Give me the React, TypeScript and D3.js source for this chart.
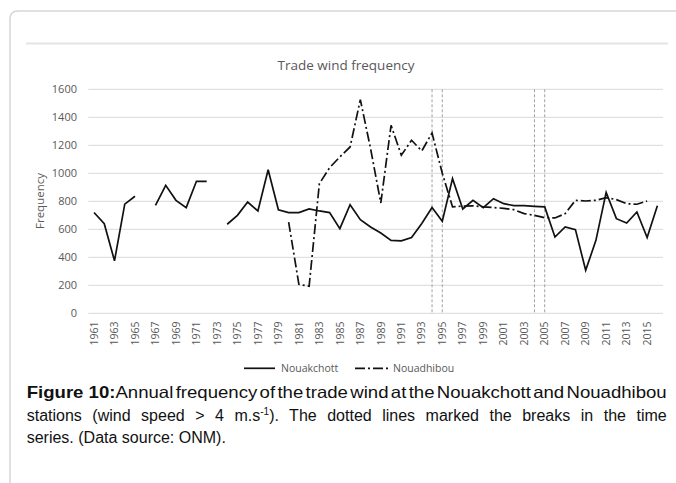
import React, { useLayoutEffect, useRef, useState } from "react";
import * as d3 from "d3";

const years: number[] = [
  1961, 1962, 1963, 1964, 1965, 1966, 1967, 1968, 1969, 1970,
  1971, 1972, 1973, 1974, 1975, 1976, 1977, 1978, 1979, 1980,
  1981, 1982, 1983, 1984, 1985, 1986, 1987, 1988, 1989, 1990,
  1991, 1992, 1993, 1994, 1995, 1996, 1997, 1998, 1999, 2000,
  2001, 2002, 2003, 2004, 2005, 2006, 2007, 2008, 2009, 2010,
  2011, 2012, 2013, 2014, 2015, 2016,
];

const nouakchott: (number | null)[] = [
  720, 640, 375, 780, 836, null, 771, 914, 807, 755,
  943, 943, null, 636, 700, 795, 731, 1025, 740, 719,
  719, 745, 731, 719, 605, 776, 669, 617, 574, 521,
  517, 541, 641, 755, 657, 962, 745, 807, 755, 819,
  783, 769, 769, 764, 760, 545, 617, 598, 307, 521,
  864, 676, 645, 724, 541, 769,
];

const nouadhibou: (number | null)[] = [
  null, null, null, null, null, null, null, null, null, null,
  null, null, null, null, null, null, null, null, null, 652,
  207, 193, 926, 1040, 1117, 1188, 1526, 1176, 788, 1343,
  1129, 1236, 1160, 1288, 1000, 760, 766, 768, 760, 755,
  750, 740, 712, 700, 683, 681, 712, 807, 802, 807,
  826, 812, 783, 779, 802, null,
];

const breakYears: number[] = [1994, 1995, 2004, 2005];
const yTicks: number[] = [0, 200, 400, 600, 800, 1000, 1200, 1400, 1600];
const xTickYears: number[] = years.filter((y) => (y - 1961) % 2 === 0);

const seriesNames = ["Nouakchott", "Nouadhibou"];
const chartTitle = "Trade wind frequency";
const yAxisTitle = "Frequency";

const captionLine1Bold = "Figure 10:";
const captionLine1 = "Annual frequency of the trade wind at the Nouakchott and Nouadhibou";
const captionLine2a = "stations (wind speed > 4 m.s";
const captionLine2sup = "-1";
const captionLine2b = "). The dotted lines marked the breaks in the time";
const captionLine3 = "series. (Data source: ONM).";

const FONT = "'Open Sans', sans-serif";
const CAP_FONT = "'Liberation Sans', Arial, sans-serif";
const GREY = "#595959";

export default function App() {
  const W = 676;
  const H = 483;
  const x = d3.scaleBand<number>().domain(years).range([88.9, 662.5]);
  const y = d3.scaleLinear().domain([0, 1600]).range([313.3, 89.3]);
  const cx = (yr: number) => (x(yr) as number) + x.bandwidth() / 2;

  const line = d3
    .line<[number, number | null]>()
    .defined((d) => d[1] !== null)
    .x((d) => cx(d[0]))
    .y((d) => y(d[1] as number));

  const dA = line(years.map((yr, i) => [yr, nouakchott[i]]));
  const dB = line(years.map((yr, i) => [yr, nouadhibou[i]]));

  const plotLeft = 88.3;
  const plotRight = 663;

  const capLeft = 26.7;
  const capWidth = 640;

  const line2Ref = useRef<SVGTextElement>(null);
  const [wordSpacing, setWordSpacing] = useState(0);
  useLayoutEffect(() => {
    const el = line2Ref.current;
    if (!el) return;
    const len = el.getComputedTextLength();
    const spaces = (captionLine2a + captionLine2b).split(" ").length - 1;
    setWordSpacing(Math.max(0, (capWidth - len) / spaces));
  }, []);

  return (
    <svg
      width={W}
      height={H}
      style={{ position: "absolute", left: 0, top: 0, background: "#fff" }}
    >
      {/* card */}
      <path
        d={`M10,${H + 5} L10,19 Q10,11 18,11 L${W + 5},11`}
        fill="none"
        stroke="#d6d6d6"
        strokeWidth={1.5}
      />
      <line x1={26} x2={668} y1={43.5} y2={43.5} stroke="#e4e4e4" strokeWidth={2} />

      {/* title */}
      <text
        x={346}
        y={69.5}
        textAnchor="middle"
        fontFamily={FONT}
        fontSize={13.5}
        fill={GREY}
      >
        {chartTitle}
      </text>

      {/* gridlines */}
      {yTicks.map((t) => (
        <g key={t}>
          <line
            x1={plotLeft}
            x2={plotRight}
            y1={y(t)}
            y2={y(t)}
            stroke="#d9d9d9"
            strokeWidth={1}
          />
          <text
            x={77}
            y={y(t)}
            dy="0.35em"
            textAnchor="end"
            fontFamily={FONT}
            fontSize={11}
            fill={GREY}
          >
            {t}
          </text>
        </g>
      ))}

      {/* y axis title */}
      <text
        transform={`translate(40,201) rotate(-90)`}
        textAnchor="middle"
        dy="0.35em"
        fontFamily={FONT}
        fontSize={11.5}
        fill={GREY}
      >
        {yAxisTitle}
      </text>

      {/* x tick labels */}
      {xTickYears.map((yr) => (
        <text
          key={yr}
          transform={`translate(${cx(yr)},321.5) rotate(-90)`}
          textAnchor="end"
          dy="0.35em"
          fontFamily={FONT}
          fontSize={10.5}
          fill={GREY}
        >
          {yr}
        </text>
      ))}

      {/* break lines */}
      {breakYears.map((yr) => (
        <line
          key={yr}
          x1={cx(yr)}
          x2={cx(yr)}
          y1={y(1600)}
          y2={y(0)}
          stroke="#a0a0a0"
          strokeWidth={1}
          strokeDasharray="3,2"
        />
      ))}

      {/* series */}
      <path d={dB || ""} fill="none" stroke="#111" strokeWidth={1.7} strokeDasharray="10,3,2,3" />
      <path d={dA || ""} fill="none" stroke="#111" strokeWidth={1.7} strokeLinejoin="miter" />

      {/* legend */}
      <line x1={244} x2={275} y1={368.3} y2={368.3} stroke="#111" strokeWidth={1.7} />
      <text x={281} y={368.3} dy="0.35em" fontFamily={FONT} fontSize={10.5} fill={GREY}>
        {seriesNames[0]}
      </text>
      <line
        x1={355}
        x2={390}
        y1={368.3}
        y2={368.3}
        stroke="#111"
        strokeWidth={1.7}
        strokeDasharray="10,3,2,3"
      />
      <text x={393} y={368.3} dy="0.35em" fontFamily={FONT} fontSize={10.5} fill={GREY}>
        {seriesNames[1]}
      </text>

      {/* caption */}
      <text
        x={capLeft}
        y={398.3}
        fontFamily={CAP_FONT}
        fontSize={16.5}
        fill="#111"
        textLength={capWidth}
        lengthAdjust="spacingAndGlyphs"
      >
        <tspan fontWeight="bold">{captionLine1Bold}</tspan>
        <tspan style={{ wordSpacing: "-2.5px" }}>{captionLine1}</tspan>
      </text>
      <text
        ref={line2Ref}
        x={capLeft}
        y={420.6}
        fontFamily={CAP_FONT}
        fontSize={16}
        fill="#111"
        style={{ wordSpacing: `${wordSpacing}px` }}
      >
        <tspan>{captionLine2a}</tspan>
        <tspan fontSize={10} dy={-6}>{captionLine2sup}</tspan>
        <tspan dy={6}>{captionLine2b}</tspan>
      </text>
      <text x={capLeft} y={443} fontFamily={CAP_FONT} fontSize={16} fill="#111">
        {captionLine3}
      </text>
    </svg>
  );
}
